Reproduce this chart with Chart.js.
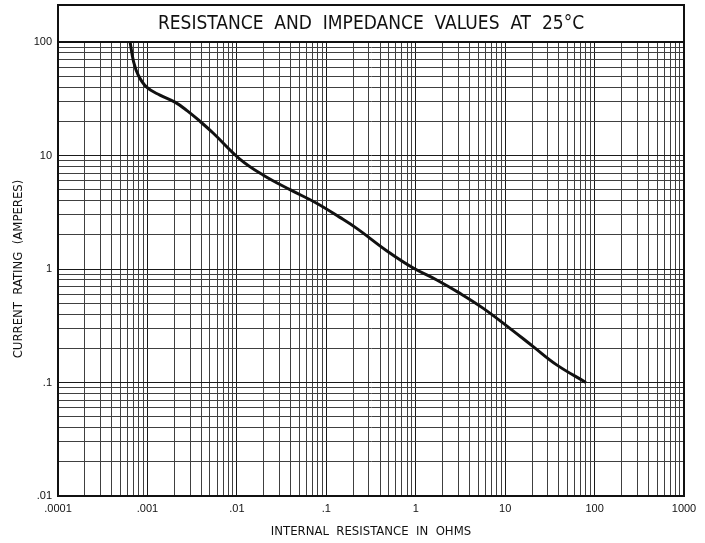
<!DOCTYPE html>
<html>
<head>
<meta charset="utf-8">
<script src="https://cdn.jsdelivr.net/npm/chart.js@4/dist/chart.umd.min.js"></script>
<style>
  html, body { margin: 0; padding: 0; background: #fff; }
  #wrap { width: 705px; height: 543px; }
</style>
</head>
<body>
<div id="wrap"><canvas id="resChart" width="705" height="543"></canvas></div>
<script>
// curve (ohms vs amperes)
const resistance = [0.00064, 0.00070, 0.00079, 0.00098, 0.00138, 0.00203, 0.00275, 0.00387, 0.00546,
    0.0108, 0.0198, 0.0393, 0.078, 0.142, 0.219, 0.473, 0.94, 1.72, 3.13, 5.7, 11.3, 20.6, 37.7, 80];
const current = [100, 67, 51, 40, 34, 29.5, 25, 20, 15.7,
    9.3, 6.7, 5.0, 3.8, 2.85, 2.28, 1.45, 1.02, 0.80, 0.61, 0.45, 0.30, 0.207, 0.143, 0.1];

const xDecades = [0.0001, 0.001, 0.01, 0.1, 1, 10, 100, 1000];
const xTickLabels = ['.0001', '.001', '.01', '.1', '1', '10', '100', '1000'];
const yDecades = [0.01, 0.1, 1, 10, 100];
const yTickLabels = ['.01', '.1', '1', '10', '100'];

const chartTitle = 'RESISTANCE  AND  IMPEDANCE  VALUES  AT  25\u00B0C';
const xTitle = 'INTERNAL  RESISTANCE  IN  OHMS';
const yTitle = 'CURRENT  RATING  (AMPERES)';

// 1..9 per decade, then the last decade
function gridValues(decades) {
    const out = [];
    for (let i = 0; i < decades.length - 1; i++) {
        for (let m = 1; m <= 9; m++) out.push(decades[i] * m);
    }
    out.push(decades[decades.length - 1]);
    return out;
}
const xGrid = gridValues(xDecades);
const yGrid = gridValues(yDecades);

const frame = {
    id: 'frame',
    afterDraw(chart) {
        const ctx = chart.ctx;
        const a = chart.chartArea;
        ctx.save();
        ctx.strokeStyle = '#111';
        ctx.lineWidth = 2;
        ctx.strokeRect(a.left, 5, a.right - a.left, a.bottom - 5);
        ctx.beginPath();
        ctx.moveTo(a.left, a.top);
        ctx.lineTo(a.right, a.top);
        ctx.stroke();
        ctx.fillStyle = '#111';
        ctx.font = '19px "DejaVu Sans Condensed", "DejaVu Sans"';
        ctx.textAlign = 'center';
        ctx.textBaseline = 'middle';
        ctx.fillText(chartTitle, (a.left + a.right) / 2, 24);
        ctx.restore();
    }
};

const ctx1 = document.getElementById('resChart').getContext('2d');
const resChart = new Chart(ctx1, {
    type: 'line',
    data: {
        datasets: [{
            data: resistance.map((r, i) => ({x: r, y: current[i]})),
            borderColor: '#111',
            borderWidth: 3,
            pointRadius: 0,
            tension: 0.4,
            fill: false
        }]
    },
    options: {
        responsive: false,
        animation: false,
        layout: {
            padding: {top: 42, right: 21, left: 0, bottom: 0}
        },
        scales: {
            x: {
                type: 'logarithmic',
                min: 0.0001,
                max: 1000,
                afterBuildTicks: (s) => { s.ticks = xGrid.map(v => ({value: v})); },
                afterFit: (s) => { s.height = 47; },
                grid: {
                    color: (c) => (c.index % 9 === 0 ? '#1a1a1a' : '#404040'),
                    lineWidth: 1,
                    drawTicks: false
                },
                border: {display: true, color: '#111', width: 2},
                ticks: {
                    autoSkip: false,
                    maxRotation: 0,
                    padding: 6,
                    color: '#111',
                    font: {family: 'Liberation Sans', size: 11},
                    callback: (v, i) => (i % 9 === 0 ? xTickLabels[i / 9] : '')
                },
                title: {
                    display: true,
                    text: xTitle,
                    color: '#111',
                    font: {family: 'DejaVu Sans Condensed', size: 13},
                    padding: {top: 0, bottom: 4}
                }
            },
            y: {
                type: 'logarithmic',
                min: 0.01,
                max: 100,
                afterBuildTicks: (s) => { s.ticks = yGrid.map(v => ({value: v})); },
                afterFit: (s) => { s.width = 58; },
                grid: {
                    color: (c) => (c.index % 9 === 0 ? '#1a1a1a' : '#404040'),
                    lineWidth: 1,
                    drawTicks: false
                },
                border: {display: true, color: '#111', width: 2},
                ticks: {
                    autoSkip: false,
                    padding: 6,
                    color: '#111',
                    font: {family: 'Liberation Sans', size: 11},
                    callback: (v, i) => (i % 9 === 0 ? yTickLabels[i / 9] : '')
                },
                title: {
                    display: true,
                    text: yTitle,
                    color: '#111',
                    font: {family: 'DejaVu Sans Condensed', size: 13},
                    padding: {top: 11, bottom: 0}
                }
            }
        },
        plugins: {
            legend: {display: false},
            tooltip: {enabled: false}
        }
    },
    plugins: [frame]
});
</script>
</body>
</html>
